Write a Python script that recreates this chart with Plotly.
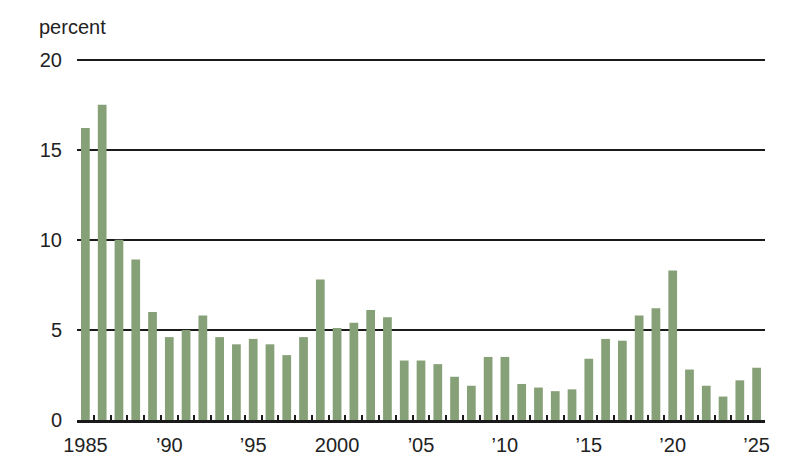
import plotly.graph_objects as go

# annual values, 1985-2025
years = list(range(1985, 2026))
percent = [16.2, 17.5, 10.0, 8.9, 6.0, 4.6, 5.0, 5.8, 4.6, 4.2,
           4.5, 4.2, 3.6, 4.6, 7.8, 5.1, 5.4, 6.1, 5.7, 3.3,
           3.3, 3.1, 2.4, 1.9, 3.5, 3.5, 2.0, 1.8, 1.6, 1.7,
           3.4, 4.5, 4.4, 5.8, 6.2, 8.3, 2.8, 1.9, 1.3, 2.2, 2.9]

label_years = [1985, 1990, 1995, 2000, 2005, 2010, 2015, 2020, 2025]
label_text = ['1985', '\u201990', '\u201995', '2000', '\u201905', '\u201910', '\u201915', '\u201920', '\u201925']
y_ticks = [0, 5, 10, 15, 20]

# tick marks sit between the bars
boundaries = [y - 0.5 for y in years] + [years[-1] + 0.5]
x_range = [years[0] - 0.5, years[-1] + 0.5]

font = dict(family='Liberation Sans, Arial, sans-serif', size=20, color='#222222')

fig = go.Figure()
fig.add_trace(go.Bar(x=years, y=percent, width=0.52,
                     marker=dict(color='#86a077', line=dict(width=0))))

# invisible trace so the tick overlay axis gets drawn
fig.add_trace(go.Scatter(x=x_range, y=[0, 0], xaxis='x2', mode='lines',
                         line=dict(width=0), hoverinfo='skip'))

fig.update_layout(
    width=800, height=470,
    margin=dict(l=77, r=35, t=56.4, b=50),
    plot_bgcolor='white', paper_bgcolor='white',
    font=font, showlegend=False,
    xaxis=dict(range=x_range, tickvals=label_years, ticktext=label_text,
               ticks='', showgrid=False, zeroline=False, automargin=False,
               showline=True, linecolor='#1a1a1a', linewidth=2.5,
               ticklabelstandoff=5),
    xaxis2=dict(range=x_range, overlaying='x', side='bottom', automargin=False,
                tickvals=boundaries, showticklabels=False,
                ticks='inside', ticklen=5, tickwidth=2, tickcolor='#1a1a1a',
                showgrid=False, zeroline=False, showline=False),
    yaxis=dict(range=[0, 20.2], tickvals=y_ticks, showgrid=True, automargin=False,
               gridcolor='#1a1a1a', gridwidth=2, zeroline=False,
               ticks='', ticklabelstandoff=14),
    annotations=[dict(text='percent', xref='paper', yref='paper',
                      x=-40 / 688, y=(420 - 27) / 363.6,
                      xanchor='left', yanchor='middle', showarrow=False,
                      font=font)],
)

# page body has a default margin that shifts the figure
fig.write_html("out.html", config={'displayModeBar': False},
               post_script="document.body.style.margin='0';")
